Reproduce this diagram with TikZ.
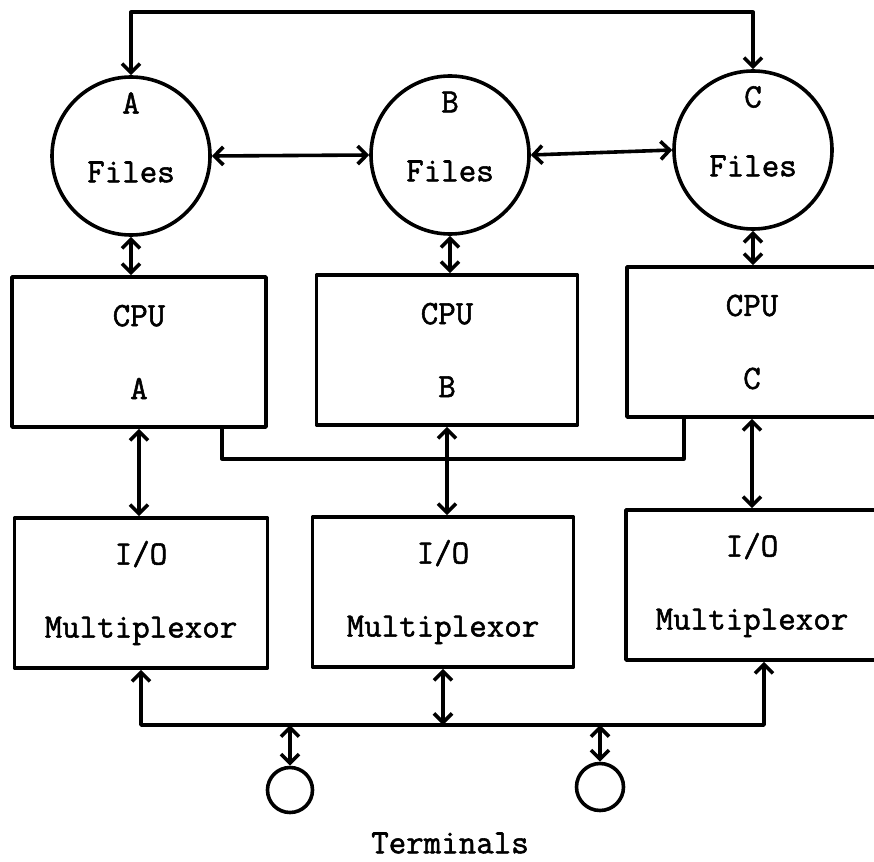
\documentclass[tikz,border=0pt]{standalone}
\usepackage{fontspec}
\newfontfamily\typer{Latin Modern Mono}[FakeBold=1.6]
\usetikzlibrary{arrows.meta}
\begin{document}
\begin{tikzpicture}[x=1pt,y=-1pt,line cap=round,line join=round,line width=3.6pt,
  font=\fontsize{34}{40}\selectfont\typer,
  store/.style={draw,circle,minimum size=158pt,inner sep=0pt},
  unit/.style={draw,rectangle,minimum height=150pt,align=center,inner sep=0pt},
  term/.style={draw,circle,minimum size=45pt,inner sep=0pt},
  link/.style={{Straight Barb[length=9pt,width=18pt]}-{Straight Barb[length=9pt,width=18pt]}}]
\useasboundingbox (0,0) rectangle (874,861);
% file stores
\foreach \n/\x/\y in {A/131/156,B/450/155,C/753/150}{
  \node[store] (f\n) at (\x,\y) {};
  \node[yshift=53pt] at (f\n) {\n};
  \node[yshift=-16pt] at (f\n) {Files};
}
% processors and multiplexors
\foreach \n/\x/\y/\w in {A/139/352/254,B/447/350/261,C/752/342/250}
  \node[unit,minimum width=\w pt] (cpu\n) at (\x,\y) {CPU\\[33pt]\n};
\foreach \n/\x/\y/\w in {A/141/593/253,B/443/592/261,C/752/585/252}
  \node[unit,minimum width=\w pt] (io\n) at (\x,\y) {I/O\\[33pt]Multiplexor};
% terminals
\node[term] (t1) at (290,790) {};
\node[term,minimum size=47pt] (t2) at (600,787) {};
\node (tlab) at (450,843) {Terminals};
% connections
\draw[link] (fA.north) -- ++(0,-63) -| (fC.north);
\draw[link] (fA.east) -- (fB.west);
\draw[link] (fB.east) -- (fC.west);
\foreach \n in {A,B,C}{
  \draw[link] (f\n.south) -- (f\n.south |- cpu\n.north);
  \draw[link] (cpu\n.south) -- (cpu\n.south |- io\n.north);
}
\draw ([xshift=83pt]cpuA.south) -- ++(0,30) -| ([xshift=-68pt]cpuC.south);
\coordinate (bus) at (0,725);
\draw[link] (ioA.south) -- (ioA.south |- bus) -| ([xshift=12pt]ioC.south);
\draw[link] (ioB.south) -- (ioB.south |- bus);
\draw[link] (t1.north |- bus) -- (t1.north);
\draw[link] (t2.north |- bus) -- (t2.north);
\end{tikzpicture}
\end{document}
